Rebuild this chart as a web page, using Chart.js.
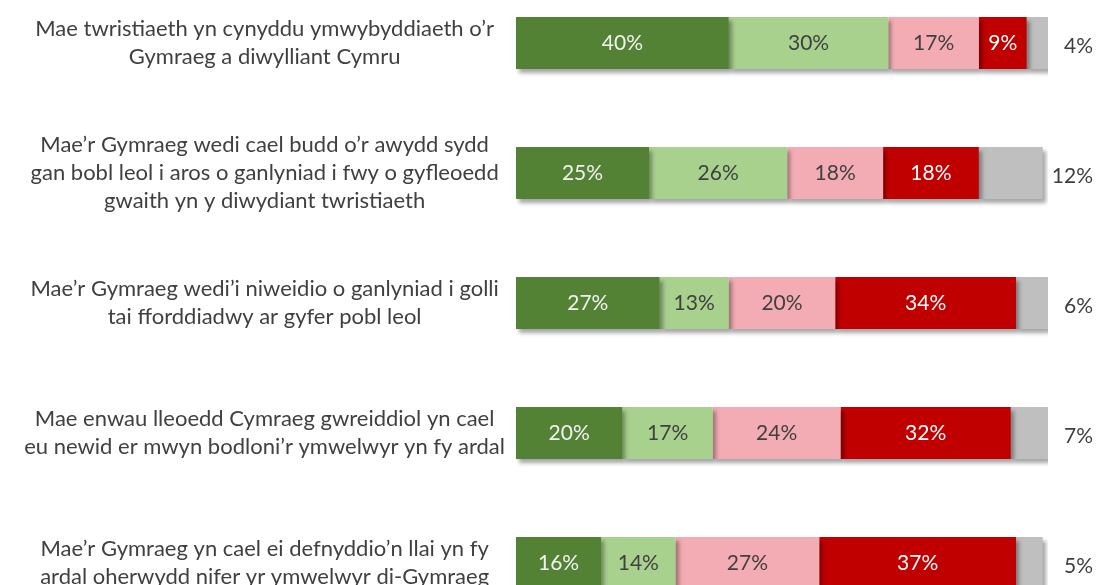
<!DOCTYPE html>
<html>
<head>
<meta charset="utf-8">
<script src="https://cdn.jsdelivr.net/npm/chart.js@4.4.1/dist/chart.umd.min.js"></script>
<style>
    html, body { margin: 0; padding: 0; background: #fff; overflow: hidden; }
    body { width: 1097px; height: 585px; position: relative; }
    #wrap { position: absolute; left: 0; top: -22px; width: 1097px; height: 650px; }
</style>
</head>
<body>
<div id="wrap"><canvas id="chart"></canvas></div>
<script>
// statements (left-hand labels)
const statements = [
    ['Mae twristiaeth yn cynyddu ymwybyddiaeth o’r', 'Gymraeg a diwylliant Cymru'],
    ['Mae’r Gymraeg wedi cael budd o’r awydd sydd', 'gan bobl leol i aros o ganlyniad i fwy o gyfleoedd', 'gwaith yn y diwydiant twristiaeth'],
    ['Mae’r Gymraeg wedi’i niweidio o ganlyniad i golli', 'tai fforddiadwy ar gyfer pobl leol'],
    ['Mae enwau lleoedd Cymraeg gwreiddiol yn cael', 'eu newid er mwyn bodloni’r ymwelwyr yn fy ardal'],
    ['Mae’r Gymraeg yn cael ei defnyddio’n llai yn fy', 'ardal oherwydd nifer yr ymwelwyr di-Gymraeg']
];

// percentages per response group
const strongAgree    = [40, 25, 27, 20, 16];
const agree          = [30, 26, 13, 17, 14];
const disagree       = [17, 18, 20, 24, 27];
const strongDisagree = [9, 18, 34, 32, 37];
const dontKnow       = [4, 12, 6, 7, 5];

const FONT = 'Lato, "Open Sans", sans-serif';

const series = [
    { data: strongAgree,    color: '#548235', text: '#F2F2F2' },
    { data: agree,          color: '#A9D18E', text: '#404040' },
    { data: disagree,       color: '#F4ACB4', text: '#404040' },
    { data: strongDisagree, color: '#C00000', text: '#FFFFFF' },
    { data: dontKnow,       color: '#BFBFBF', text: '#404040', outside: true }
];

// soft drop shadow under the bars + value labels
const barDecor = {
    id: 'barDecor',
    beforeDatasetsDraw(chart) {
        const ctx = chart.ctx;
        ctx.save();
        ctx.shadowColor = 'rgba(0,0,0,0.35)';
        ctx.shadowBlur = 4;
        ctx.shadowOffsetX = 3;
        ctx.shadowOffsetY = 4;
    },
    afterDatasetsDraw(chart) {
        const ctx = chart.ctx;
        ctx.restore();
        ctx.save();
        ctx.font = '21px ' + FONT;
        ctx.textBaseline = 'middle';
        chart.data.datasets.forEach((ds, i) => {
            const meta = chart.getDatasetMeta(i);
            meta.data.forEach((bar, j) => {
                const v = ds.data[j];
                ctx.fillStyle = series[i].text;
                if (series[i].outside) {
                    ctx.textAlign = 'right';
                    ctx.fillText(v + '%', chart.chartArea.right + 45, bar.y + 3);
                } else {
                    ctx.textAlign = 'center';
                    ctx.fillText(v + '%', (bar.base + bar.x) / 2, bar.y);
                }
            });
        });
        ctx.restore();
    }
};

new Chart(document.getElementById('chart'), {
    type: 'bar',
    data: {
        labels: statements,
        datasets: series.map(s => ({
            data: s.data,
            backgroundColor: s.color,
            borderWidth: 0,
            barPercentage: 0.4,
            categoryPercentage: 1
        }))
    },
    options: {
        indexAxis: 'y',
        responsive: true,
        maintainAspectRatio: false,
        animation: false,
        layout: { padding: { left: 0, right: 49, top: 0, bottom: 0 } },
        plugins: {
            legend: { display: false },
            tooltip: { enabled: false }
        },
        scales: {
            x: {
                stacked: true,
                min: 0,
                max: 100,
                display: false
            },
            y: {
                stacked: true,
                grid: { display: false },
                border: { display: false },
                afterFit(scale) {
                    scale.width = 516;
                    scale.paddingTop = 0;
                    scale.paddingBottom = 0;
                },
                ticks: {
                    crossAlign: 'center',
                    padding: 3,
                    color: '#404040',
                    font: { family: FONT, size: 22, lineHeight: 1.27 }
                }
            }
        }
    },
    plugins: [barDecor]
});
</script>
</body>
</html>
